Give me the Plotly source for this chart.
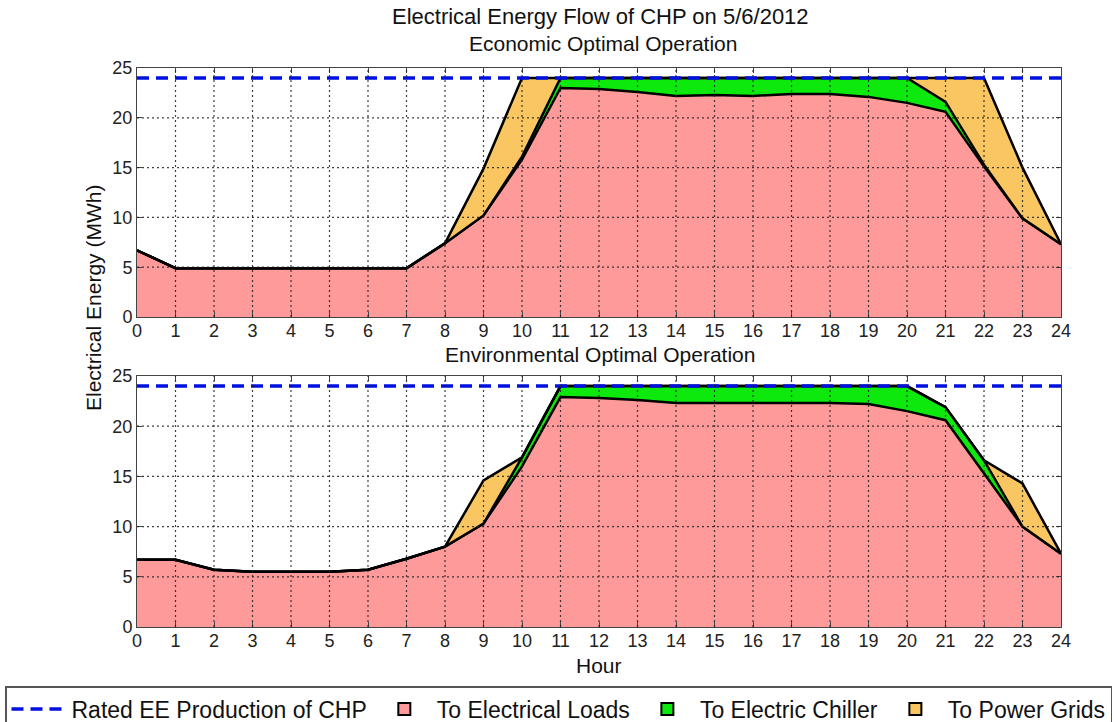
import plotly.graph_objects as go

# ---------------- data ----------------
hours = list(range(0, 25))
rated_ee = 24.0

loads_eco = [6.7, 4.9, 4.9, 4.9, 4.9, 4.9, 4.9, 4.9, 7.4, 10.2, 15.8, 23.0, 22.9, 22.6, 22.2,
             22.3, 22.2, 22.4, 22.4, 22.1, 21.5, 20.6, 15.1, 9.9, 7.3]
chiller_eco = [0, 0, 0, 0, 0, 0, 0, 0, 0, 0, 0.3, 1.0, 1.1, 1.4, 1.8,
               1.7, 1.8, 1.6, 1.6, 1.9, 2.5, 1.0, 0.2, 0, 0]
grids_eco = [0, 0, 0, 0, 0, 0, 0, 0, 0, 4.7, 7.9, 0, 0, 0, 0,
             0, 0, 0, 0, 0, 0, 2.4, 8.7, 5.1, 0]

loads_env = [6.7, 6.7, 5.7, 5.5, 5.5, 5.5, 5.7, 6.8, 8.0, 10.3, 16.0, 22.9, 22.8, 22.6, 22.3,
             22.3, 22.3, 22.3, 22.3, 22.2, 21.5, 20.6, 15.3, 10.0, 7.3]
chiller_env = [0, 0, 0, 0, 0, 0, 0, 0, 0, 0, 0.9, 1.1, 1.2, 1.4, 1.7,
               1.7, 1.7, 1.7, 1.7, 1.8, 2.5, 1.3, 1.3, 0, 0]
grids_env = [0, 0, 0, 0, 0, 0, 0, 0, 0, 4.3, 0, 0, 0, 0, 0,
             0, 0, 0, 0, 0, 0, 0, 0, 4.3, 0]

x_ticks = list(range(0, 25))
y_ticks = [0, 5, 10, 15, 20, 25]

series_names = ["To Electrical Loads", "To Electric Chiller", "To Power Grids"]
rated_name = "Rated EE Production of CHP"

# ---------------- style ----------------
FONT = "Liberation Sans, Arial, sans-serif"
C_LOAD = "#FF9A9A"
C_CHIL = "#0DE80D"
C_GRID = "#FAC662"
C_RATED = "#0010E0"
COLORS = [C_LOAD, C_CHIL, C_GRID]
W, H = 1114, 722

fig = go.Figure()

panels = [("x", "y", loads_eco, chiller_eco, grids_eco),
          ("x2", "y2", loads_env, chiller_env, grids_env)]

for xa, ya, ld, ch, gr in panels:
    sg = "stack_" + ya
    for name, vals, col in zip(series_names, [ld, ch, gr], COLORS):
        fig.add_trace(go.Scatter(
            x=hours, y=vals, name=name, stackgroup=sg, mode="lines",
            line=dict(color="black", width=2.5), fillcolor=col,
            xaxis=xa, yaxis=ya, showlegend=False, hoverinfo="skip"))
for i, (xa, ya) in enumerate([("x", "y"), ("x2", "y2")]):
    fig.add_trace(go.Scatter(
        x=[hours[0], hours[-1]], y=[rated_ee, rated_ee], name=rated_name, mode="lines",
        line=dict(color=C_RATED, width=3.5, dash="12px,7px"),
        xaxis=xa, yaxis=ya, showlegend=(i == 0), legendrank=1, hoverinfo="skip"))

# grid drawn above the fills (like the MATLAB figure)
shapes = []
for xr, yr in [("x", "y"), ("x2", "y2")]:
    for xv in x_ticks[1:-1]:
        shapes.append(dict(type="line", xref=xr, yref=yr, x0=xv, x1=xv, y0=y_ticks[0], y1=y_ticks[-1],
                           line=dict(color="rgba(30,30,30,0.85)", width=1.2, dash="2px,3px"), layer="above"))
    for yv in y_ticks[1:-1]:
        shapes.append(dict(type="line", xref=xr, yref=yr, x0=x_ticks[0], x1=x_ticks[-1], y0=yv, y1=yv,
                           line=dict(color="rgba(30,30,30,0.85)", width=1.2, dash="2px,3px"), layer="above"))

# legend boxes for the filled areas (degenerate rect shapes that only show in the legend)
for k, (name, col) in enumerate(zip(series_names, COLORS)):
    shapes.append(dict(type="rect", xref="x", yref="y", x0=0, x1=0, y0=0, y1=0,
                       fillcolor=col, line=dict(color="black", width=2),
                       name=name, showlegend=True, legendrank=2 + k, layer="below"))

xdom = [137 / W, 1061 / W]
ydom_top = [1 - 317 / H, 1 - 68 / H]
ydom_bot = [1 - 627 / H, 1 - 376 / H]

axis_common = dict(showgrid=False, zeroline=False, showline=True, linecolor="#444", linewidth=1,
                   mirror="ticks", ticks="inside", ticklen=5, tickcolor="#444",
                   tickfont=dict(family=FONT, size=18, color="#222"), layer="above traces")

fig.update_layout(
    width=W, height=H,
    margin=dict(l=0, r=0, t=0, b=0, autoexpand=False),
    paper_bgcolor="white", plot_bgcolor="white",
    font=dict(family=FONT, color="#111"),
    xaxis=dict(domain=xdom, range=[0, 24], tickvals=x_ticks, anchor="y", ticklabelstandoff=-3, **axis_common),
    yaxis=dict(domain=ydom_top, range=[0, 25], tickvals=y_ticks, anchor="x", **axis_common),
    xaxis2=dict(domain=xdom, range=[0, 24], tickvals=x_ticks, anchor="y2", ticklabelstandoff=-3, **axis_common),
    yaxis2=dict(domain=ydom_bot, range=[0, 25], tickvals=y_ticks, anchor="x2", **axis_common),
    shapes=shapes,
    showlegend=True,
    legend=dict(orientation="h", x=5 / W, y=1 - 686 / H, xanchor="left", yanchor="top",
                bordercolor="#555", borderwidth=1.5, bgcolor="white",
                font=dict(family=FONT, size=23, color="#111"),
                itemwidth=55, traceorder="normal", tracegroupgap=0),
    annotations=[
        dict(text="Electrical Energy Flow of CHP on 5/6/2012", x=600 / W, y=1 - 17 / H,
             xref="paper", yref="paper", showarrow=False, yanchor="middle",
             font=dict(family=FONT, size=22, color="#111")),
        dict(text="Economic Optimal Operation", x=603 / W, y=1 - 44 / H,
             xref="paper", yref="paper", showarrow=False, yanchor="middle",
             font=dict(family=FONT, size=21, color="#111")),
        dict(text="Environmental Optimal Operation", x=600 / W, y=1 - 354 / H,
             xref="paper", yref="paper", showarrow=False, yanchor="middle",
             font=dict(family=FONT, size=21, color="#111")),
        dict(text="Hour", x=599 / W, y=1 - 665 / H,
             xref="paper", yref="paper", showarrow=False, yanchor="middle",
             font=dict(family=FONT, size=21, color="#111")),
        dict(text="Electrical Energy (MWh)", x=93 / W, y=1 - 298 / H, textangle=-90,
             xref="paper", yref="paper", showarrow=False, xanchor="center", yanchor="middle",
             font=dict(family=FONT, size=21, color="#111")),
    ],
)

fig.write_html("out.html")
